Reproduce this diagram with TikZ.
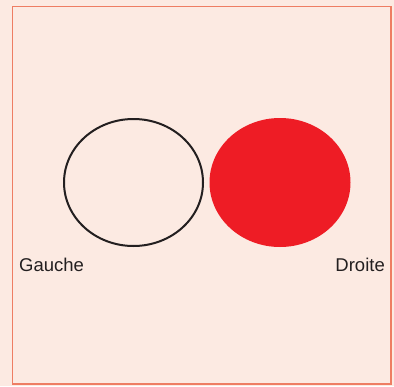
\documentclass[tikz,border=0pt]{standalone}
\usepackage{fontspec}
\setmainfont{Liberation Sans}
\usetikzlibrary{shapes.geometric}
\definecolor{fond}{HTML}{FCEAE2}
\definecolor{cadre}{HTML}{EE7D63}
\definecolor{rouge}{HTML}{EE1C25}
\definecolor{trait}{HTML}{231F20}
\tikzset{
  rond/.style={ellipse,inner sep=0pt,minimum width=139pt,minimum height=127pt},
  mot/.style={inner sep=0pt,font=\fontsize{18.5}{20}\selectfont,text=trait}
}

\begin{document}
\begin{tikzpicture}[x=1pt,y=-1pt]
\fill[fond] (0,0) rectangle (394,386);
\useasboundingbox (0,0) rectangle (394,386);
\draw[cadre,line width=1.5pt] (12.5,6.5) rectangle (391,384);
\path
(133.5,182.5) node[rond,draw=trait,line width=2pt] (g) {}
(280,182.5) node[rond,fill=rouge,minimum width=141pt,minimum height=129pt] (d) {}
(19,271) node[mot,anchor=base west] (gauche) {Gauche}
(385,271) node[mot,anchor=base east] (droite) {Droite};
\end{tikzpicture}
\end{document}
